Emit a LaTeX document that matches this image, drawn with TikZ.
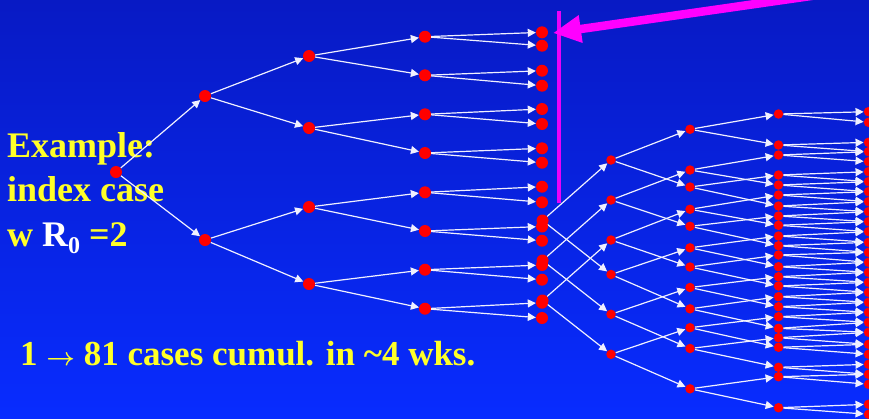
\documentclass[tikz,border=0pt]{standalone}
\usepackage{fontspec}
\setmainfont{Liberation Serif}
\usetikzlibrary{arrows.meta}
\definecolor{bgtop}{RGB}{8,26,196}
\definecolor{bgbot}{RGB}{8,44,255}
\definecolor{caseyellow}{RGB}{255,255,40}
\definecolor{dotred}{RGB}{255,0,0}
\definecolor{marker}{RGB}{235,0,250}
\definecolor{pointer}{RGB}{255,0,255}
\pgfdeclarelayer{bg}
\pgfdeclarelayer{edges}
\pgfsetlayers{bg,edges,main}
\tikzset{
  case/.style={circle,fill=dotred,inner sep=0pt,minimum size=12pt},
  smallcase/.style={case,minimum size=9.5pt},
  spread/.style={draw=white!94!blue,line width=1.2pt,
    -{Triangle[length=8pt,width=8pt]}},
  caption/.style={anchor=base west,inner sep=0pt,text=caseyellow,
    font=\bfseries\fontsize{36}{43}\selectfont},
}
\begin{document}
\begin{tikzpicture}[x=1pt,y=-1pt]
\useasboundingbox (0,0) rectangle (869,418);

% background and captions
\begin{pgfonlayer}{bg}
  \shade[top color=bgtop,bottom color=bgbot] (0,0) rectangle (869,418);
  \node[caption] (ex1) at (7,157) {Example:};
  \node[caption] (ex2) at (7,201.7) {index case};
  \node[caption] (ex3) at (7,246.5)
    {w \textcolor{white}{R\raisebox{-7pt}{\fontsize{24}{24}\selectfont 0}} =2};
  \node[caption,font=\bfseries\fontsize{35}{42}\selectfont] (sum) at (20,365)
    {1 {\boldmath$\rightarrow$} 81 cases cumul. in \textasciitilde4 wks.};
\end{pgfonlayer}

\begin{scope}
\clip (0,0) rectangle (869,418);
% first tree: index case and four generations
\node[case] (r) at (116,172) {};
\foreach \n/\y in {1/96,2/240}
  \node[case] (a\n) at (205,\y) {};
\foreach \n/\y in {1/56,2/128,3/207,4/284}
  \node[case] (b\n) at (309,\y) {};
\foreach \n/\y in {1/36.7,2/75.3,3/114.3,4/153,5/192.3,6/231,7/269.7,8/308.7}
  \node[case] (c\n) at (425,\y) {};
\foreach \n/\y in {1/32.3,2/45.7,3/70.7,4/85.7,5/109,6/124,7/148.3,8/162.7,
    9/186.7,10/202.3,11/226.5,12/240.7,13/265,14/279.7,15/302.7,16/318}
  \node[case] (d\n) at (542,\y) {};

% second tree, continuing from three cases of the first
\foreach \n/\y in {1/220.5,2/260.5,3/300.5}
  \node[case] (e\n) at (542.5,\y) {};
\foreach \n/\y in {1/160,2/200,3/240,4/274.5,5/314.3,6/354.3}
  \node[smallcase] (f\n) at (611,\y) {};
\foreach \n/\y in {1/129.3,2/170,3/187,4/209.3,5/226.3,6/247.8,7/267,8/287.5,
    9/308.8,10/327.7,11/348.5,12/388.8}
  \node[smallcase] (g\n) at (690,\y) {};
\foreach \n/\y in {1/114,2/145,3/155,4/175,5/185,6/195,7/206,8/216,9/225.3,
    10/236,11/245.7,12/255,13/266.7,14/276.7,15/286,16/296.7,17/306.7,
    18/316.7,19/328.3,20/337.7,21/347.3,22/367.3,23/376.7,24/407.7}
  \node[smallcase] (h\n) at (778.5,\y) {};
\foreach \n/\y in {1/111.7,2/122.3,3/142.3,4/151.7,5/161.7,6/171.7,7/181.7,
    8/191.7,9/201.7,10/211.7,11/221.7,12/231.7,13/242.3,14/252.3,15/262.3,
    16/272.3,17/282.3,18/292.3,19/302.3,20/312.3,21/322.3,22/332.3,23/344.3,
    24/354.3,25/364.3,26/374.3,27/384.3,28/404.3,29/414.3}
  \node[smallcase] (k\n) at (868.5,\y) {};

% pointer to the cut-off generation
\coordinate (cuttop) at (558.5,11);
\coordinate (cutbot) at (558.5,203);
\draw[marker,line width=4pt] (cuttop) -- (cutbot);
\coordinate (ptail) at (880,-13.9);
\coordinate (ptip) at (553,33);
\draw[pointer,line width=8.5pt,-{Triangle[length=28pt,width=26pt]}] (ptail) -- (ptip);
\end{scope}

% transmission arrows
\begin{pgfonlayer}{edges}
\clip (0,0) rectangle (869,418);
\foreach \c in {a1,a2} \draw[spread] (r) -- (\c);
\foreach \p/\u/\v in {a1/b1/b2,a2/b3/b4,
    b1/c1/c2,b2/c3/c4,b3/c5/c6,b4/c7/c8,
    c1/d1/d2,c2/d3/d4,c3/d5/d6,c4/d7/d8,c5/d9/d10,c6/d11/d12,c7/d13/d14,c8/d15/d16,
    e1/f1/f4,e2/f2/f5,e3/f3/f6,
    f1/g1/g3,f2/g2/g5,f3/g4/g7,f4/g6/g9,f5/g8/g11,f6/g10/g12,
    g1/h1/h2,g2/h3/h5,g3/h4/h7,g4/h6/h9,g5/h8/h11,g6/h10/h13,
    g7/h12/h15,g8/h14/h17,g9/h16/h19,g10/h18/h21,g11/h20/h22,g12/h23/h24,
    h1/k1/k2,h2/k3/k4,h3/k4/k5,h4/k6/k7,h5/k7/k8,h6/k8/k9,h7/k9/k10,
    h8/k10/k11,h9/k11/k12,h10/k12/k13,h11/k13/k14,h12/k14/k15,h13/k15/k16,
    h14/k16/k17,h15/k17/k18,h16/k18/k19,h17/k19/k20,h18/k20/k21,h19/k21/k22,
    h20/k22/k23,h21/k23/k24,h22/k25/k26,h23/k26/k27,h24/k28/k29}
  {\draw[spread] (\p) -- (\u); \draw[spread] (\p) -- (\v);}
\end{pgfonlayer}
\end{tikzpicture}
\end{document}
